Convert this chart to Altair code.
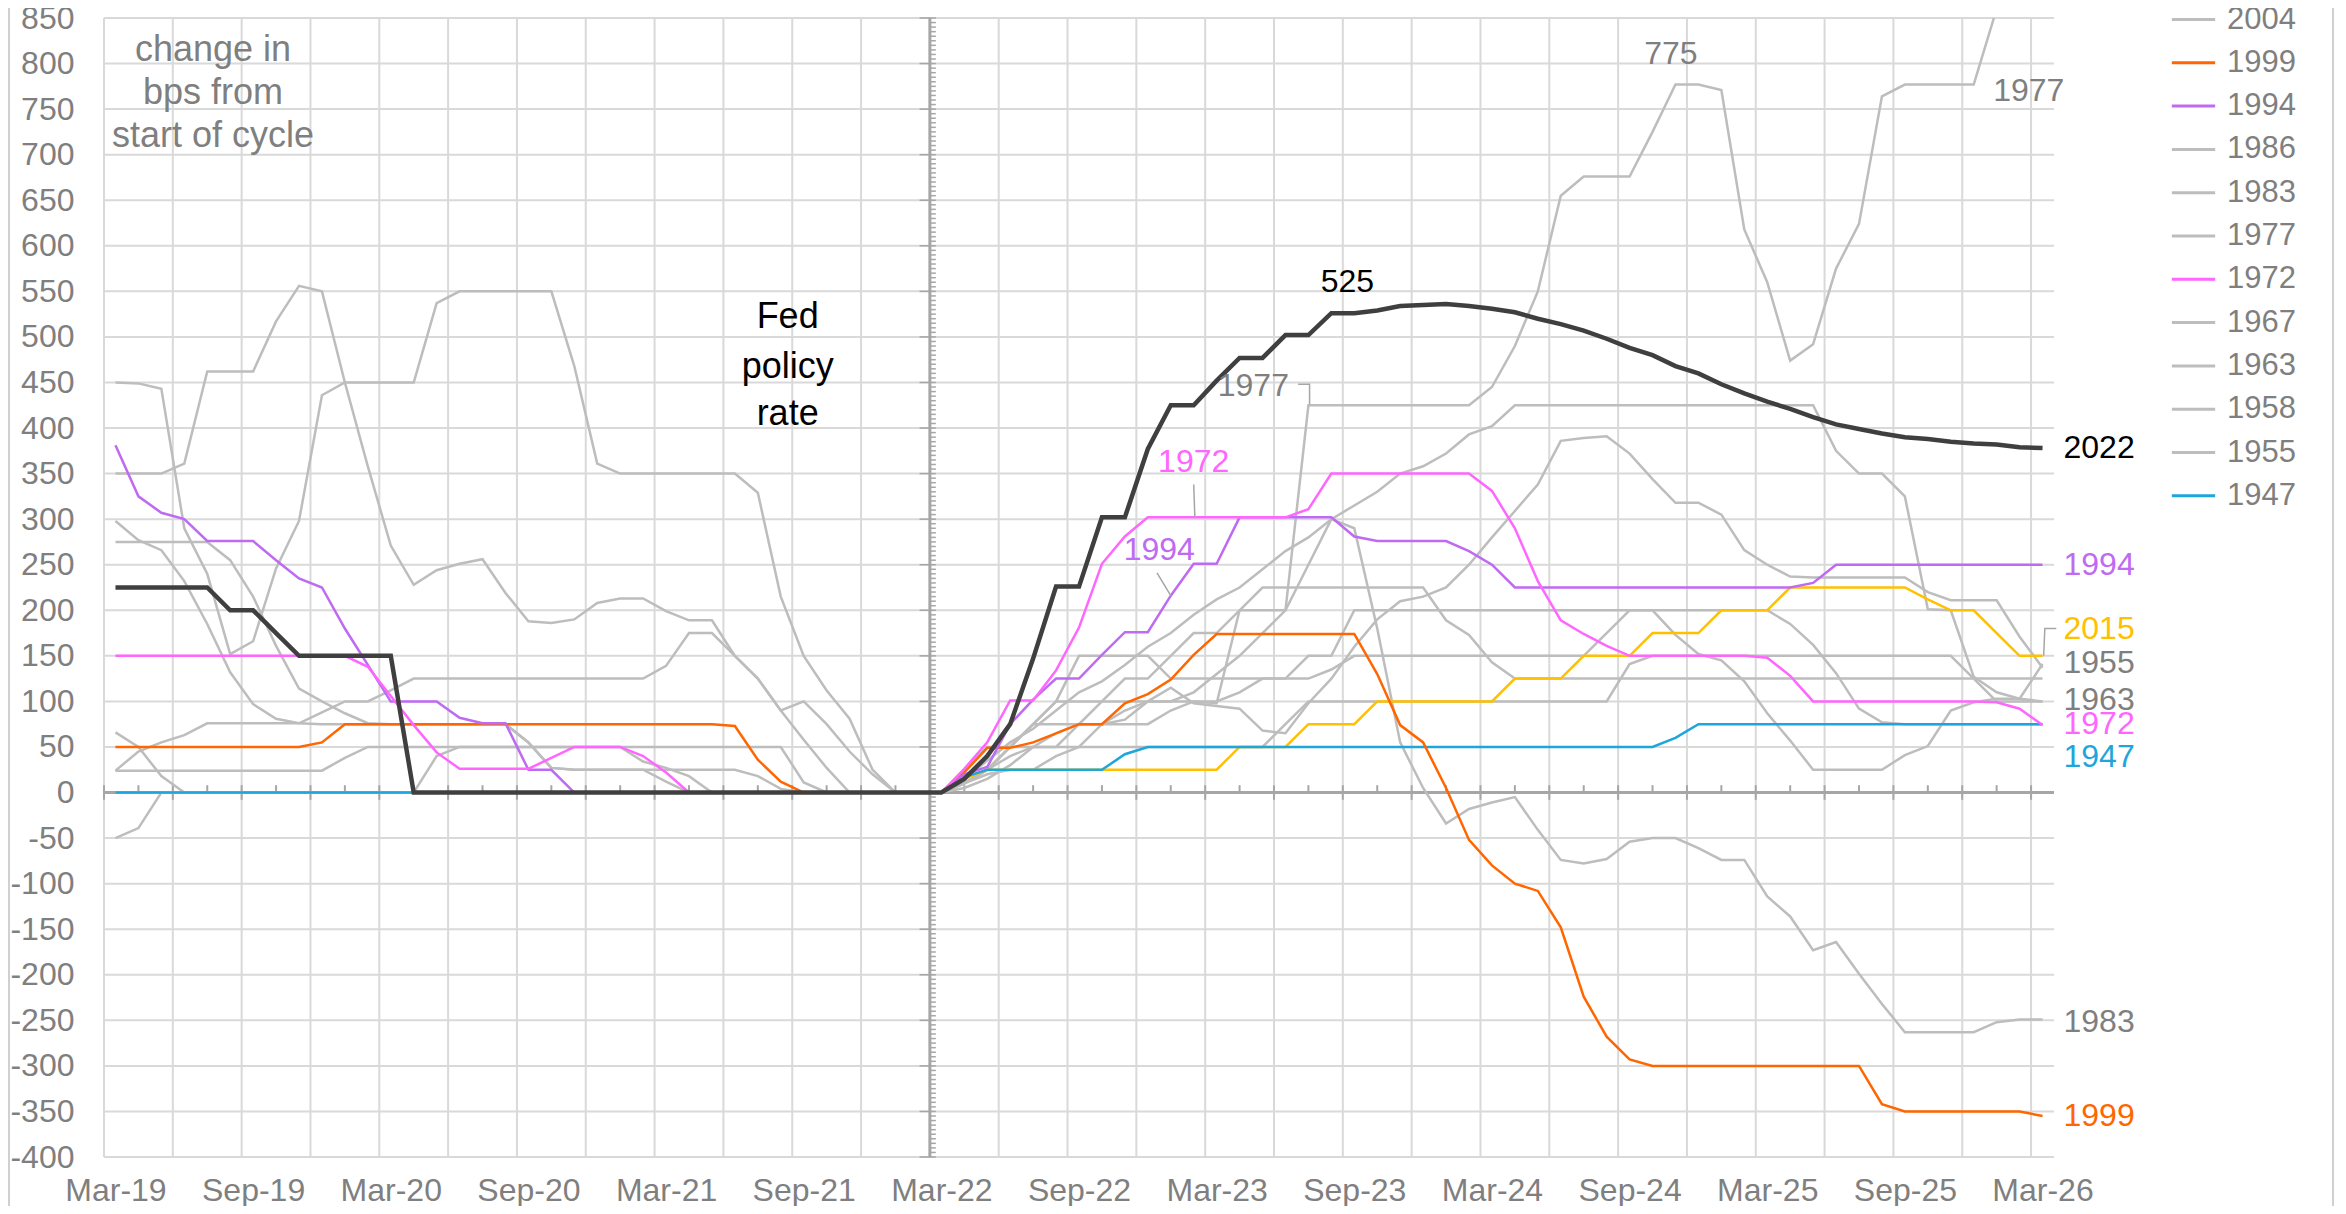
import altair as alt
import pandas as pd

# ---------------- data ----------------
MONTHS = list(range(-36, 49))          # months relative to start of cycle (Mar-22 = 0)
TICK_VALUES = [-36, -30, -24, -18, -12, -6, 0, 6, 12, 18, 24, 30, 36, 42, 48]
TICK_LABELS = ["Mar-19", "Sep-19", "Mar-20", "Sep-20", "Mar-21", "Sep-21", "Mar-22",
               "Sep-22", "Mar-23", "Sep-23", "Mar-24", "Sep-24", "Mar-25", "Sep-25", "Mar-26"]
Y_TICKS = list(range(-400, 851, 50))

# values for months -36..0 (left) and 0..48 (right)
s2022_left = [225]*5 + [200, 200, 175] + [150]*5 + [0]*24
s2022_right = [0, 15, 40, 75, 147, 226, 226, 302, 302, 377, 425, 425, 452, 477, 477, 502, 502, 526, 526, 529,
               534, 535, 536, 534, 531, 527, 520, 514, 507, 498, 488, 480, 468, 460, 448, 438, 429, 421, 412, 404,
               399, 394, 390, 388, 385, 383, 382, 379, 378]

s2015_left = [0]*37
s2015_right = [0, 15] + [25]*11 + [50]*3 + [75]*3 + [100]*6 + [125]*3 + [150]*3 + [175]*3 + [200]*3 + [225]*6 + \
              [212, 200, 200, 175, 150, 150]

s1999_left = [50]*9 + [55] + [75]*17 + [73, 36, 12] + [0]*7
s1999_right = [0, 22, 49, 49, 55, 65, 75, 75, 98, 108, 124, 151] + [174]*7 + [130, 74, 55, 5, -52, -80, -100, -108,
               -148, -224, -268, -293] + [-300]*10 + [-342] + [-350]*6 + [-355]

s1994_left = [381, 325, 307, 300, 276, 276, 276, 255, 235, 225, 180, 140, 100, 100, 100, 82, 76, 76, 25, 25] + [0]*17
s1994_right = [0, 20, 28, 75, 102, 125, 125, 151, 176, 176, 216, 251, 251, 302, 302, 302, 302, 302, 281, 276,
               276, 276, 276, 265, 250] + [225]*13 + [230] + [250]*10

s1972_left = [150]*11 + [138, 106, 74, 44, 26, 26, 26, 26, 38, 50, 50, 50, 40, 22] + [0]*12
s1972_right = [0, 26, 55, 101, 101, 134, 181, 251, 281] + [302]*7 + [311] + [350]*7 + [331, 290, 232, 189, 174, 161] + \
              [150]*6 + [148, 128] + [100]*8 + [99, 92, 74]

s1947_left = [0]*37
s1947_right = [0, 17] + [25]*6 + [42] + [50]*23 + [60] + [75]*16

# grey cycles
s1977_left = [275]*5 + [255, 215, 161, 114, 100, 87, 76] + [75]*6 + [55, 27] + [25]*8 + [18, 4] + [0]*7
s1977_right = [0, 10, 25, 50, 50, 50, 75, 75, 75, 75, 90, 100, 98, 200, 200, 200] + [425]*8 + \
              [445, 490, 550, 655, 676, 676, 676, 725, 777, 777, 771, 618, 560, 474, 492, 575, 624, 764,
               777, 777, 777, 777, 860, 900, 925]

s1983_left = [450, 449, 443, 290, 240, 152, 166, 246, 298, 436, 450, 450, 450, 450, 537] + [550]*5 + \
             [468, 361] + [350]*6 + [329, 215, 150, 112, 81, 25, 0, 0, 0]
s1983_right = [0, 10, 25, 50, 75, 100, 100, 100, 100, 100, 100, 110, 130, 150, 175, 200, 250, 300, 290, 180,
               55, 5, -34, -18, -11, -5, -41, -74, -78, -73, -54, -50, -50, -61, -74, -74, -114, -136, -173, -164,
               -199, -232, -263, -263, -263, -263, -252, -249, -249]

s1986_left = [350, 350, 350, 361, 462, 462, 462, 517, 556, 550, 450, 358, 271, 228, 244, 251, 256, 219, 188, 186,
              190, 208, 213, 213, 199, 189, 189, 150, 125, 90, 58, 27, 0, 0, 0, 0, 0]
s1986_right = [0, 5, 15, 30, 50, 65, 75, 75, 80, 100, 115, 98, 95, 92, 68, 65, 98, 125, 160, 190,
               210, 215, 225, 250, 280, 309, 338, 386, 389, 391, 372, 344, 318, 318, 305, 266, 250, 237, 236, 236,
               236, 236, 236, 220, 211, 211, 211, 171, 137]

s2004_left = [298, 277, 266, 232, 185, 132, 97, 81, 76] + [75]*9 + [55, 27] + [25]*4 + [12] + [0]*12
s2004_right = [0, 15, 35, 55, 70, 90, 110, 122, 140, 160, 175, 195, 212, 225, 245, 265, 280, 300, 315, 330,
               350, 358, 372, 393, 402] + [425]*14 + [375, 350, 350, 325, 201, 200, 127, 110, 103, 100]

s1967_left = [-50, -39] + [0]*12 + [40] + [50]*15 + [11] + [0]*6
s1967_right = [0, 25, 50, 50, 75, 100, 150, 150, 150, 150, 125, 125, 125, 125, 125, 125, 150, 150] + [200]*19 + \
              [185, 162, 131, 92, 77] + [75]*7

s1963_left = [66, 50, 18] + [0]*34
s1963_right = [0, 10, 25, 40] + [50]*11 + [75] + [100]*14 + [141] + [150]*14 + [125, 100, 100, 100]

s1958_left = [24, 45, 55, 63, 76, 76, 76, 76, 76, 88, 100, 100, 112] + [125]*11 + \
             [139, 175, 175, 150, 125, 90, 100, 75, 45, 20, 0, 0, 0]
s1958_right = [0, 10, 25, 50, 75, 75, 75, 100, 125, 125, 150, 175, 175, 200] + [225]*8 + [189, 173, 143] + [125]*24

s1955_left = [24]*10 + [38] + [50]*11 + [50, 34, 27, 18] + [0]*11
s1955_right = [0, 10, 20, 25, 25, 40, 50, 75, 90, 100, 100, 100, 100, 110, 125, 125, 125, 135] + [150]*11 + \
              [175, 200, 200, 173, 152, 145, 122, 87, 57, 25, 25, 25, 25, 41, 51, 90, 99, 103, 103, 141]

GREY_NAMES = ["2004", "1986", "1983", "1977", "1967", "1963", "1958", "1955"]
LEGEND_NAMES = ["2004", "1999", "1994", "1986", "1983", "1977", "1972", "1967", "1963", "1958", "1955", "1947"]

GREY = "#BDBDBD"
C_ORANGE, C_PURPLE, C_MAGENTA, C_BLUE, C_YELLOW, C_BLACK = "#FF6600", "#BF6AF2", "#FF66FF", "#1EA6DC", "#FFC000", "#3F3F3F"
LEGEND_COLORS = [GREY, C_ORANGE, C_PURPLE, GREY, GREY, GREY, C_MAGENTA, GREY, GREY, GREY, GREY, C_BLUE]

SERIES = {
    "2022": (s2022_left, s2022_right), "2015": (s2015_left, s2015_right),
    "1999": (s1999_left, s1999_right), "1994": (s1994_left, s1994_right),
    "1972": (s1972_left, s1972_right), "1947": (s1947_left, s1947_right),
    "1977": (s1977_left, s1977_right), "1986": (s1986_left, s1986_right),
    "1983": (s1983_left, s1983_right), "2004": (s2004_left, s2004_right),
    "1967": (s1967_left, s1967_right), "1963": (s1963_left, s1963_right),
    "1958": (s1958_left, s1958_right), "1955": (s1955_left, s1955_right),
}

rows = []
for name, (left, right) in SERIES.items():
    assert len(left) == 37 and len(right) == 49, (name, len(left), len(right))
    vals = left + right[1:]
    for m, v in zip(MONTHS, vals):
        rows.append({"series": name, "m": m, "v": v})
df = pd.DataFrame(rows)

# end-of-line labels
END_LABELS = ["2022", "1994", "2015", "1955", "1963", "1972", "1947", "1983", "1999"]
END_LABEL_V = [378, 250, 180, 142, 101, 75, 39, -252, -355]
END_LABEL_COLORS = ["#000000", C_PURPLE, C_YELLOW, "#7F7F7F", "#7F7F7F", C_MAGENTA, C_BLUE, "#7F7F7F", C_ORANGE]

# in-plot annotations
ANN_TEXT = ["525", "775", "1977", "1977", "1972", "1994"]
ANN_M = [17.7, 31.8, 47.4, 13.6, 11.0, 9.5]
ANN_V = [560, 811, 770, 446, 363, 266]
ANN_COLORS = ["#000000", "#7F7F7F", "#7F7F7F", "#7F7F7F", C_MAGENTA, C_PURPLE]

NOTE_LINES = ["change in", "bps from", "start of cycle"]
NOTE_M = -31.75
NOTE_V = [815, 768, 720]
FED_LINES = ["Fed", "policy", "rate"]
FED_M = -6.7
FED_V = [522, 467, 415]

# leader lines (label callouts)
LEADERS = {
    "1977": ([15.55, 16.05, 16.05], [448, 448, 426]),
    "1972": ([11.0, 11.05], [338, 302]),
    "1994": ([9.4, 10.0], [241, 216]),
    "2015": ([48.05, 48.1, 48.6], [150, 180, 180]),
}

X_MIN, X_MAX = -36.5, 48.5
Y_MIN, Y_MAX = -400, 850
GRID_X = [-36.5 + 3 * k for k in range(29)]
AXIS_TICK_X = [-36.5 + 1.5 * k for k in range(57)]

# ---------------- chart ----------------
xs = alt.Scale(domain=[X_MIN, X_MAX], nice=False, zero=False)
ys = alt.Scale(domain=[Y_MIN, Y_MAX], nice=False, zero=False)

FONT = "Liberation Sans"
TXT_GREY = "#7F7F7F"

label_expr = "%s[indexof(%s, datum.value)]" % (str(TICK_LABELS), str(TICK_VALUES))

x_axis = alt.Axis(values=TICK_VALUES, labelExpr=label_expr, grid=False, ticks=False, domain=False,
                  labelFontSize=32, labelColor=TXT_GREY, labelFont=FONT, labelPadding=18, title=None,
                  labelOverlap=False, labelFlush=False)
y_axis = alt.Axis(values=Y_TICKS, labelExpr="'' + datum.value", grid=False, ticks=False, domain=False,
                  labelFontSize=32, labelColor=TXT_GREY, labelFont=FONT, labelPadding=30, title=None,
                  labelOverlap=False, labelFlush=False)


def X(f):
    return alt.X(f, type="quantitative", scale=xs, axis=x_axis)


def Y(f):
    return alt.Y(f, type="quantitative", scale=ys, axis=y_axis)


hgrid_df = pd.DataFrame({"v": Y_TICKS, "m0": X_MIN, "m1": X_MAX})
vgrid_df = pd.DataFrame({"m": GRID_X, "v0": Y_MIN, "v1": Y_MAX})

hgrid = alt.Chart(hgrid_df).mark_rule(color="#D9D9D9", strokeWidth=2).encode(
    x=X("m0"), x2="m1", y=Y("v"))
vgrid = alt.Chart(vgrid_df).mark_rule(color="#D9D9D9", strokeWidth=2).encode(
    x=X("m"), y=Y("v0"), y2="v1")

# axes crossing at 0 / Mar-22
zero_df = pd.DataFrame({"m0": [X_MIN], "m1": [X_MAX], "v": [0]})
zero_line = alt.Chart(zero_df).mark_rule(color="#A6A6A6", strokeWidth=3).encode(x=X("m0"), x2="m1", y=Y("v"))
xt_df = pd.DataFrame({"m": AXIS_TICK_X,
                      "v0": [(-8 if abs(((t + 36.5) / 3) - round((t + 36.5) / 3)) < 1e-6 else 0) for t in AXIS_TICK_X],
                      "v1": 8})
x_ticks = alt.Chart(xt_df).mark_rule(color="#A6A6A6", strokeWidth=2).encode(x=X("m"), y=Y("v0"), y2="v1")

vaxis_df = pd.DataFrame({"m": [-0.5], "v0": [Y_MIN], "v1": [Y_MAX]})
v_axis = alt.Chart(vaxis_df).mark_rule(color="#A6A6A6", strokeWidth=3).encode(x=X("m"), y=Y("v0"), y2="v1")
minor_df = pd.DataFrame({"v": list(range(Y_MIN, Y_MAX + 1, 5)), "m0": -0.5, "m1": -0.24})
minor_df.loc[minor_df["v"] % 50 == 0, "m0"] = -0.95
y_ticks = alt.Chart(minor_df).mark_rule(color="#A6A6A6", strokeWidth=1.5).encode(x=X("m0"), x2="m1", y=Y("v"))

legend = alt.Legend(orient="none", legendX=2066, legendY=-22, title=None, symbolType="stroke",
                    symbolSize=1875, symbolStrokeWidth=3, labelFontSize=31, labelColor=TXT_GREY,
                    labelFont=FONT, rowPadding=4.3, labelOffset=10, padding=0, symbolOffset=0)
color_enc = alt.Color("series:N", scale=alt.Scale(domain=LEGEND_NAMES, range=LEGEND_COLORS), legend=legend)

grey_lines = alt.Chart(df[df["series"].isin(GREY_NAMES)]).mark_line(strokeWidth=2.5, clip=True).encode(
    x=X("m"), y=Y("v"), color=color_enc, detail="series:N")


def single(name, color, width):
    return alt.Chart(df[df["series"] == name]).mark_line(strokeWidth=width, clip=True, color=color).encode(
        x=X("m"), y=Y("v"))


def colored(name):
    return alt.Chart(df[df["series"] == name]).mark_line(strokeWidth=2.5, clip=True).encode(
        x=X("m"), y=Y("v"), color=color_enc)


l2015 = single("2015", C_YELLOW, 2.5)
l1947 = colored("1947")
l1999 = colored("1999")
l1994 = colored("1994")
l1972 = colored("1972")
l2022 = single("2022", C_BLACK, 4.5)

lead_rows = []
for name, (ms, vs) in LEADERS.items():
    for i, (m, v) in enumerate(zip(ms, vs)):
        lead_rows.append({"lead": name, "i": i, "m": m, "v": v})
leaders = alt.Chart(pd.DataFrame(lead_rows)).mark_line(color="#A6A6A6", strokeWidth=1.5).encode(
    x=X("m"), y=Y("v"), detail="lead:N", order="i:Q")

end_df = pd.DataFrame({"label": END_LABELS, "v": END_LABEL_V, "c": END_LABEL_COLORS, "m": 48})
end_text = alt.Chart(end_df).mark_text(align="left", baseline="middle", dx=21, fontSize=32, font=FONT).encode(
    x=X("m"), y=Y("v"), text="label:N", color=alt.Color("c:N", scale=None))

ann_df = pd.DataFrame({"label": ANN_TEXT, "m": ANN_M, "v": ANN_V, "c": ANN_COLORS})
ann_text = alt.Chart(ann_df).mark_text(align="center", baseline="middle", fontSize=32, font=FONT).encode(
    x=X("m"), y=Y("v"), text="label:N", color=alt.Color("c:N", scale=None))

note_df = pd.DataFrame({"label": NOTE_LINES, "v": NOTE_V, "m": NOTE_M})
note_text = alt.Chart(note_df).mark_text(align="center", baseline="middle", fontSize=36, font=FONT,
                                         color=TXT_GREY).encode(x=X("m"), y=Y("v"), text="label:N")
fed_df = pd.DataFrame({"label": FED_LINES, "v": FED_V, "m": FED_M})
fed_text = alt.Chart(fed_df).mark_text(align="center", baseline="middle", fontSize=36, font=FONT,
                                       color="#000000").encode(x=X("m"), y=Y("v"), text="label:N")

one = pd.DataFrame({"a": [0]})
frame_l = alt.Chart(one).mark_rule(color="#D0D0D0", strokeWidth=2).encode(
    x=alt.value(-95), y=alt.value(-10), y2=alt.value(1190))
frame_r = alt.Chart(one).mark_rule(color="#D0D0D0", strokeWidth=2).encode(
    x=alt.value(2229), y=alt.value(-10), y2=alt.value(1190))

chart = alt.layer(
    hgrid, vgrid, frame_l, frame_r, zero_line, x_ticks, v_axis, y_ticks,
    grey_lines, l2015, l1947, l1999, l1994, l1972, l2022,
    leaders, end_text, ann_text, note_text, fed_text,
).properties(
    width=1950, height=1139,
    padding={"left": 96, "top": 10, "right": 284, "bottom": 49},
    autosize=alt.AutoSizeParams(type="none"),
).configure_view(stroke=None)

chart.save("out.html", embed_options={"renderer": "svg", "actions": False})
